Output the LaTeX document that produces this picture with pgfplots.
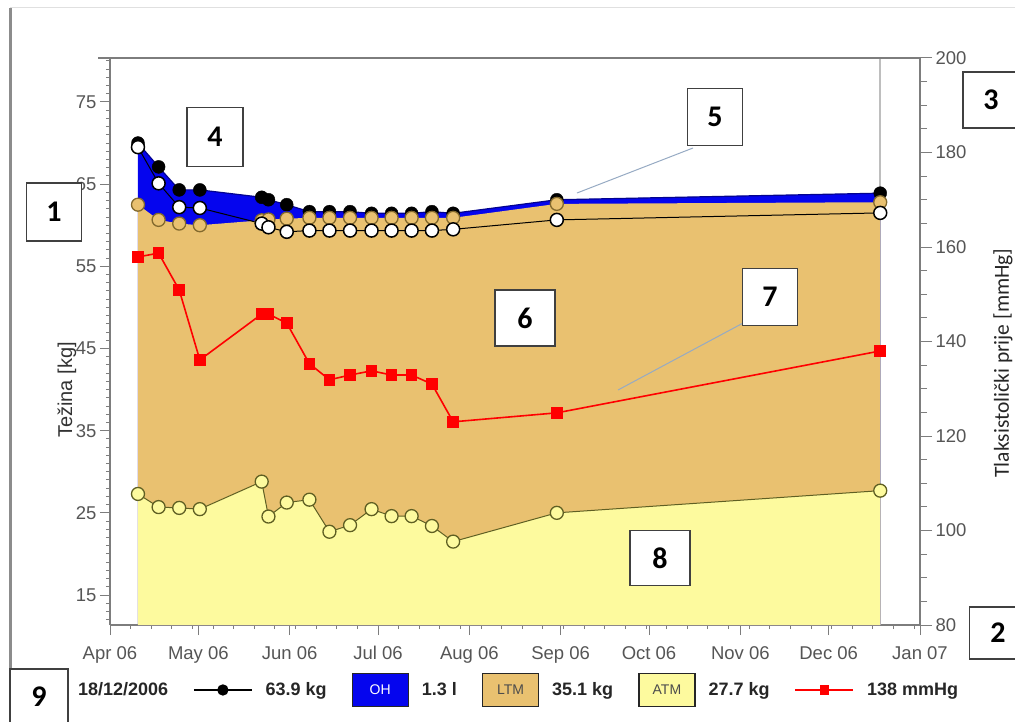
\documentclass[border=0pt]{standalone}
\usepackage{pgfplots}
\usepackage{pgfplotstable}
\pgfplotsset{compat=1.18}
\usepackage{fontspec}
\setmainfont{Liberation Sans}
\newfontfamily\calib{Carlito}

\definecolor{ohblue}{RGB}{5,5,238}
\definecolor{ltmtan}{RGB}{233,193,112}
\definecolor{atmyel}{RGB}{253,250,158}
\definecolor{atmedge}{RGB}{95,95,35}
\definecolor{tanedge}{RGB}{130,105,45}
\definecolor{axgray}{RGB}{125,125,125}
\definecolor{tickgray}{RGB}{85,85,85}
\definecolor{leader}{RGB}{150,170,195}
\definecolor{cursor}{RGB}{190,190,190}

% day = days since 1 Apr 2006
\pgfplotstableread{
day    weight  ltm   nh     atm   bp
9.5    70.0    62.5  69.5   27.3  157.9
16.5   67.1    60.65 65.1   25.7  158.7
23.5   64.3    60.2  62.2   25.6  150.9
30.5   64.3    60.0  62.1   25.45 136.1
51.5   63.4    60.6  60.2   28.8  145.8
53.8   63.1    60.7  59.75  24.55 145.8
60.0   62.5    60.8  59.2   26.25 143.9
67.7   61.65   60.9  59.35  26.6  135.3
74.5   61.65   60.9  59.35  22.7  131.9
81.5   61.65   60.9  59.35  23.5  132.9
88.8   61.45   60.9  59.35  25.45 133.8
95.6   61.45   60.9  59.35  24.6  132.9
102.4  61.45   60.9  59.35  24.6  132.9
109.3  61.65   60.9  59.35  23.4  131.0
116.5  61.45   60.9  59.5   21.5  123.0
151.7  63.1    62.6  60.65  25.0  124.9
261.5  63.9    62.8  61.5   27.7  138.0
}\data

\pgfplotsset{
  base/.style={
    at={(110pt,-625pt)}, anchor=south west,
    scale only axis, width=810pt, height=567pt,
    xmin=0, xmax=275,
    tick align=outside,
    tick style={axgray, line width=1pt},
    axis line style={axgray, line width=1.6pt},
    ticklabel style={font=\fontsize{18.5}{18.5}\selectfont, text=tickgray},
    /pgf/number format/assume math mode=true,
  },
  legline/.style={legend image code/.code={\draw[mark repeat=2,mark phase=2,##1] plot coordinates {(0pt,0pt) (29pt,0pt) (58pt,0pt)};}},
  legbox/.style n args={3}{legend image code/.code={\node[draw=black!85, line width=1.3pt, fill=#1, text=#2, minimum width=56pt, minimum height=33pt, inner sep=0pt, anchor=west, font=\fontsize{14}{14}\selectfont] at (0pt,0pt) {#3};}},
}
\tikzset{numbox/.style={draw=black!75, line width=1.3pt, fill=white, minimum width=56pt, minimum height=56pt, inner sep=0pt, font=\calib\fontsize{30}{30}\selectfont\bfseries}}

\begin{document}
\begin{tikzpicture}
\useasboundingbox (0pt,0pt) rectangle (1015pt,-722pt);
\draw[black!45, line width=3pt] (10pt,-8pt) -- (10pt,-722pt);
\draw[black!12, line width=1pt] (10pt,-8pt) -- (1015pt,-8pt);

\begin{axis}[base,
  ymin=11.35, ymax=80.35,
  axis x line*=bottom, axis y line*=left,
  xtick={0,30,61,91,122,153,183,214,244,275},
  xticklabels={Apr 06,May 06,Jun 06,Jul 06,Aug 06,Sep 06,Oct 06,Nov 06,Dec 06,Jan 07},
  xticklabel style={yshift=-8pt},
  minor xtick={7,14,...,273},
  ytick={15,25,...,75},
  minor ytick={12,13,...,80},
  major tick length=10pt, minor tick length=4pt,
  legend columns=6,
  legend style={draw=none, fill=none, inner sep=0pt, at={(-0.0556,-0.1146)}, anchor=west,
    nodes={font=\fontsize{18}{18}\selectfont\bfseries, text=black!85, inner sep=0pt},
    /tikz/every odd column/.append style={column sep=13pt},
    /tikz/every even column/.append style={column sep=25pt}},
]
\addlegendimage{empty legend}\addlegendentry{18/12/2006}
\addlegendimage{legline, black, line width=1.3pt, mark=*, mark size=5pt}\addlegendentry{63.9 kg}
\addlegendimage{legbox={ohblue}{white}{OH}}\addlegendentry{1.3 l}
\addlegendimage{legbox={ltmtan}{black!70}{LTM}}\addlegendentry{35.1 kg}
\addlegendimage{legbox={atmyel}{black!70}{ATM}}\addlegendentry{27.7 kg}
\addlegendimage{legline, red, line width=1.5pt, mark=square*, mark size=4pt}\addlegendentry{138 mmHg}

\draw[cursor, line width=2pt] (axis cs:261.5,11.35) -- (axis cs:261.5,80.35);
\addplot[draw=none, fill=ohblue, forget plot] table[x=day,y=weight]{\data} \closedcycle;
\addplot[draw=none, fill=ltmtan, forget plot] table[x=day,y=ltm]{\data} \closedcycle;
\addplot[draw=none, fill=atmyel, forget plot] table[x=day,y=atm]{\data} \closedcycle;
\addplot[ohblue!60!black, line width=1.2pt, forget plot] table[x=day,y=weight]{\data};
\addplot[only marks, mark=*, mark size=6.5pt, mark options={fill=black, draw=black}, forget plot] table[x=day,y=weight]{\data};
\addplot[only marks, mark=*, mark size=6.5pt, mark options={fill=ltmtan, draw=tanedge, line width=1.3pt}, forget plot] table[x=day,y=ltm]{\data};
\addplot[black, line width=1pt, mark=*, mark size=6.5pt, mark options={fill=white, draw=black, line width=1.5pt}, forget plot] table[x=day,y=nh]{\data};
\addplot[atmedge, line width=1pt, mark=*, mark size=6.5pt, mark options={fill=atmyel, draw=atmedge, line width=1.3pt}, forget plot] table[x=day,y=atm]{\data};
\end{axis}

\begin{axis}[base, ymin=80, ymax=200,
  axis y line*=right, axis x line=none,
  ytick={80,100,...,200}, minor ytick={85,90,...,195},
  major tick length=12pt, minor tick length=7pt,
]
\addplot[red, line width=1.6pt, mark=square*, mark size=5pt] table[x=day,y=bp]{\data};
\end{axis}

\draw[axgray, line width=2.5pt] (98pt,-58pt) -- (920pt,-58pt);

\node[rotate=90, font=\fontsize{20}{20}\selectfont, text=black!80] at (67pt,-390pt) {Težina [kg]};
\node[rotate=90, font=\calib\fontsize{21.5}{21.5}\selectfont, text=black!85] at (1003pt,-363pt) {Tlaksistolički prije [mmHg]};

\draw[leader, line width=1pt] (693pt,-148pt) -- (577pt,-193pt);
\draw[leader, line width=1pt] (745pt,-322pt) -- (618pt,-390pt);

\node[numbox, minimum height=58pt, minimum width=55pt] at (54pt,-212pt) {1};
\node[numbox, minimum height=52pt, minimum width=57pt] at (998pt,-633pt) {2};
\node[numbox] at (991pt,-100pt) {3};
\node[numbox, minimum height=59pt] at (215pt,-137pt) {4};
\node[numbox, minimum width=55pt, minimum height=57pt] at (715pt,-117pt) {5};
\node[numbox, minimum width=60pt] at (525pt,-318pt) {6};
\node[numbox, minimum width=55pt, minimum height=57pt] at (770pt,-297pt) {7};
\node[numbox, minimum width=60pt, minimum height=55pt] at (660pt,-558pt) {8};
\node[numbox, minimum width=58pt] at (39pt,-697pt) {9};
\end{tikzpicture}
\end{document}
